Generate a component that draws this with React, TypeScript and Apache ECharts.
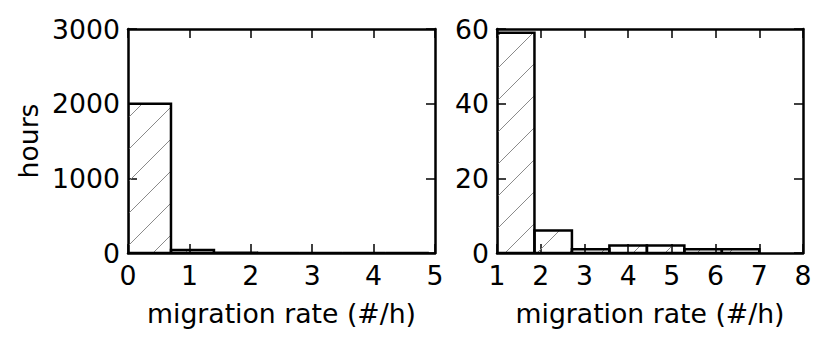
import React, { useEffect, useRef } from "react";
import * as echarts from "echarts";

// Left histogram: bin edges (start, end) and hours
const leftBinStarts = [0, 0.7, 1.4, 2.1, 2.8, 3.5, 4.2];
const leftBinEnds = [0.7, 1.4, 2.1, 2.8, 3.5, 4.2, 4.9];
const leftHours = [2000, 40, 5, 0, 0, 0, 0];
const leftYTicks = [0, 1000, 2000, 3000];
const leftXRange = [0, 5];

// Right histogram
const rightBinStarts = [1, 1.857, 2.714, 3.571, 4.429, 5.286, 6.143];
const rightBinEnds = [1.857, 2.714, 3.571, 4.429, 5.286, 6.143, 7];
const rightHours = [59, 6, 1, 2, 2, 1, 1];
const rightYTicks = [0, 20, 40, 60];
const rightXRange = [1, 8];

const xName = "migration rate (#/h)";
const yName = "hours";

const FONT = "DejaVu Sans";
const FS = 26.7;
const HATCH_PERIOD = 32;
const HATCH_OFFSET = 22;

function renderHist(params: any, api: any) {
  const x0 = api.value(0);
  const x1 = api.value(1);
  const h = api.value(2);
  const p0 = api.coord([x0, 0]);
  const p1 = api.coord([x1, h]);
  const rx = p0[0];
  const ry = p1[1];
  const rw = p1[0] - p0[0];
  const rh = p0[1] - p1[1];
  const children: any[] = [];
  if (rh > 0.5) {
    const cStart = Math.ceil((rx + ry - HATCH_OFFSET) / HATCH_PERIOD) * HATCH_PERIOD + HATCH_OFFSET;
    const cEnd = rx + rw + ry + rh;
    for (let c = cStart; c <= cEnd; c += HATCH_PERIOD) {
      const xs = Math.max(rx, c - (ry + rh));
      const xe = Math.min(rx + rw, c - ry);
      if (xe > xs) {
        children.push({
          type: "line",
          shape: { x1: xs, y1: c - xs, x2: xe, y2: c - xe },
          style: { stroke: "#8a8a8a", lineWidth: 1 },
        });
      }
    }
  }
  children.push({
    type: "rect",
    shape: { x: rx, y: ry, width: rw, height: rh },
    style: { fill: "none", stroke: "#000", lineWidth: 2.5 },
  });
  return { type: "group", children };
}

function makeAxes(g: number, xr: number[], yt: number[], showYName: boolean) {
  const lineStyle = { color: "#000", width: 2.5 };
  const tick = { show: true, inside: true, length: 9, lineStyle: { color: "#000", width: 1.5 } };
  const label = { show: true, color: "#000", fontFamily: FONT, fontSize: FS, formatter: (v: number) => String(v) };
  const yInterval = yt[1] - yt[0];
  const xAxes = [
    {
      gridIndex: g, type: "value", position: "bottom", min: xr[0], max: xr[1], interval: 1,
      axisLine: { show: true, onZero: false, lineStyle }, axisTick: tick,
      axisLabel: { ...label, margin: 9 }, splitLine: { show: false },
      name: xName, nameLocation: "middle", nameGap: 47,
      nameTextStyle: { color: "#000", fontFamily: FONT, fontSize: FS },
    },
    {
      gridIndex: g, type: "value", position: "top", min: xr[0], max: xr[1], interval: 1,
      axisLine: { show: true, onZero: false, lineStyle }, axisTick: tick,
      axisLabel: { show: false }, splitLine: { show: false },
    },
  ];
  const yAxes = [
    {
      gridIndex: g, type: "value", position: "left", min: yt[0], max: yt[yt.length - 1], interval: yInterval,
      axisLine: { show: true, onZero: false, lineStyle }, axisTick: tick,
      axisLabel: { ...label, margin: 8 }, splitLine: { show: false },
      ...(showYName
        ? {
            name: yName, nameLocation: "middle", nameGap: 86, nameRotate: 90,
            nameTextStyle: { color: "#000", fontFamily: FONT, fontSize: FS },
          }
        : {}),
    },
    {
      gridIndex: g, type: "value", position: "right", min: yt[0], max: yt[yt.length - 1], interval: yInterval,
      axisLine: { show: true, onZero: false, lineStyle }, axisTick: tick,
      axisLabel: { show: false }, splitLine: { show: false },
    },
  ];
  return { xAxes, yAxes };
}

export default function App() {
  const ref = useRef<HTMLDivElement>(null);
  useEffect(() => {
    if (!ref.current) return;
    const chart = echarts.init(ref.current, null, { renderer: "svg" });
    const leftData = leftBinStarts.map((s, i) => [s, leftBinEnds[i], leftHours[i]]);
    const rightData = rightBinStarts.map((s, i) => [s, rightBinEnds[i], rightHours[i]]);
    const a0 = makeAxes(0, leftXRange, leftYTicks, true);
    const a1 = makeAxes(1, rightXRange, rightYTicks, false);
    chart.setOption({
      animation: false,
      backgroundColor: "#fff",
      textStyle: { fontFamily: FONT },
      grid: [
        { left: 128, top: 29, width: 307, height: 224, containLabel: false },
        { left: 497, top: 29, width: 306, height: 224, containLabel: false },
      ],
      xAxis: [...a0.xAxes, ...a1.xAxes],
      yAxis: [...a0.yAxes, ...a1.yAxes],
      series: [
        {
          type: "custom", xAxisIndex: 0, yAxisIndex: 0, clip: true,
          renderItem: renderHist, data: leftData, encode: { x: [0, 1], y: 2 },
        },
        {
          type: "custom", xAxisIndex: 2, yAxisIndex: 2, clip: true,
          renderItem: renderHist, data: rightData, encode: { x: [0, 1], y: 2 },
        },
      ],
    });
    return () => chart.dispose();
  }, []);
  return (
    <div
      ref={ref}
      style={{ position: "fixed", left: 0, top: 0, width: 830, height: 344 }}
    />
  );
}
